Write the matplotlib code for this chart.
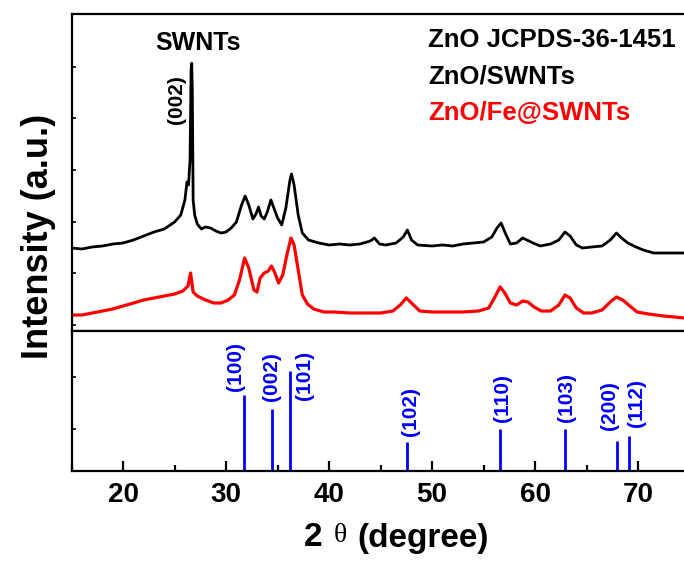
import matplotlib
matplotlib.use("Agg")
import matplotlib.pyplot as plt
import numpy as np
from matplotlib.ticker import MultipleLocator

plt.rcParams['font.family'] = ['Liberation Sans', 'DejaVu Sans']
plt.rcParams['font.weight'] = 'bold'

# XRD scans (2theta in degrees, intensity in arbitrary units)
two_theta_swnt = [15.0, 16.0, 17.0, 18.0, 19.0, 20.0, 21.0, 22.0, 23.0, 24.0, 25.0, 25.6,
                  26.0, 26.2, 26.35, 26.5, 26.6, 26.66, 26.72, 26.8, 26.95, 27.2, 27.6,
                  28.0, 28.5, 29.0, 29.5, 30.0, 30.5, 31.0, 31.5, 31.85, 32.2, 32.6, 32.9,
                  33.15, 33.4, 33.7, 34.0, 34.35, 34.6, 35.0, 35.4, 35.8, 36.2, 36.35,
                  36.6, 37.0, 37.4, 38.0, 39.0, 40.0, 41.0, 42.0, 43.0, 44.0, 44.4, 44.9,
                  45.5, 46.5, 47.2, 47.6, 48.0, 48.6, 50.0, 51.0, 52.0, 53.0, 54.0, 55.0,
                  55.8, 56.3, 56.7, 57.1, 57.6, 58.2, 58.8, 59.2, 59.8, 60.5, 61.5, 62.3,
                  62.9, 63.4, 64.0, 64.6, 65.5, 66.5, 67.3, 67.9, 68.4, 69.0, 69.8, 70.5,
                  71.5, 72.5, 73.5, 74.5]
int_swnt = [82.7, 81.7, 83.7, 84.7, 86.7, 87.7, 90.7, 94.7, 98.7, 101.7, 108.7, 115.7,
            130.7, 148.7, 145.7, 170.7, 260.7, 267.4, 240.7, 130.7, 115.7, 106.7, 101.7,
            103.7, 102.7, 99.7, 97.7, 98.7, 102.7, 108.7, 125.7, 134.7, 125.7, 111.7, 116.7,
            123.7, 114.7, 111.7, 118.7, 130.7, 123.7, 112.7, 105.7, 122.7, 150.7, 156.7,
            145.7, 115.7, 97.7, 90.7, 87.7, 85.7, 86.7, 85.7, 86.7, 89.7, 92.7, 86.7,
            85.7, 87.7, 93.7, 100.7, 90.7, 85.7, 84.7, 85.7, 84.7, 86.7, 87.7, 88.7,
            93.7, 102.7, 107.7, 97.7, 86.7, 87.7, 92.7, 90.7, 87.7, 84.7, 86.7, 90.7,
            98.7, 94.7, 85.7, 82.7, 83.7, 84.7, 90.7, 97.7, 92.7, 87.7, 83.7, 80.7,
            77.7, 77.7, 77.7, 77.7]

two_theta_fe = [15.0, 16.0, 17.0, 18.0, 19.0, 20.0, 21.0, 22.0, 23.0, 24.0, 25.0, 25.8,
                26.3, 26.55, 26.8, 27.2, 28.0, 28.8, 29.5, 30.2, 30.8, 31.3, 31.8, 32.2,
                32.7, 33.0, 33.3, 33.7, 34.1, 34.4, 34.7, 35.1, 35.5, 35.9, 36.3, 36.6,
                37.0, 37.4, 37.9, 38.5, 39.5, 40.5, 42.0, 43.5, 45.0, 46.2, 46.9, 47.5,
                48.1, 48.8, 50.0, 51.5, 53.0, 54.5, 55.5, 56.1, 56.6, 57.0, 57.6, 58.2,
                58.8, 59.3, 59.9, 60.6, 61.5, 62.3, 62.9, 63.4, 64.0, 64.7, 65.5, 66.5,
                67.4, 67.9, 68.5, 69.2, 69.9, 71.0, 72.5, 74.5]
int_fe = [15.7, 15.7, 17.7, 19.7, 21.7, 24.7, 27.7, 30.7, 32.7, 34.7, 36.7, 39.7,
          44.7, 57.7, 38.7, 34.7, 30.7, 27.7, 27.7, 30.7, 35.7, 50.7, 72.7, 62.7,
          40.7, 38.7, 52.7, 57.7, 59.7, 64.7, 58.7, 47.7, 55.7, 75.7, 92.7, 85.7,
          60.7, 35.7, 26.7, 21.7, 18.7, 18.7, 17.7, 17.7, 17.7, 19.7, 25.7, 32.7,
          26.7, 19.7, 18.7, 18.7, 18.7, 19.7, 22.7, 33.7, 43.7, 38.7, 27.7, 25.7,
          29.7, 28.7, 23.7, 19.7, 19.7, 25.7, 35.7, 32.7, 22.7, 17.7, 17.7, 20.7,
          29.7, 33.7, 30.7, 24.7, 18.7, 16.7, 14.7, 12.7]

# ZnO reference pattern (JCPDS 36-1451)
ref_pos = [31.77, 34.42, 36.25, 47.54, 56.60, 62.86, 67.96, 69.10]
ref_int = [75.4, 61.3, 100.0, 28.5, 41.9, 41.9, 29.5, 35.2]
ref_hkl = ['(100)', '(002)', '(101)', '(102)', '(110)', '(103)', '(200)', '(112)']

# label placement: horizontal shift (deg) and baseline height for each hkl
lab_dx = [-0.9, 0.0, 1.4, 0.4, 0.25, 0.2, -0.75, 0.75]
lab_y = [80.0, 70.0, 70.5, 35.0, 49.0, 49.0, 41.0, 43.5]

W, H = 684, 561
fig = plt.figure(figsize=(W / 100, H / 100), dpi=100)

x0 = 71.6 / W
width = 60 * 10.3 / W
ax_top = fig.add_axes([x0, (H - 330.7) / H, width, 316.4 / H])
ax_bot = fig.add_axes([x0, (H - 470.7) / H, width, 140.0 / H])

for ax in (ax_top, ax_bot):
    for s in ax.spines.values():
        s.set_linewidth(1.6)
    ax.set_xlim(15, 75)

# top panel: measured patterns
ax_top.plot(two_theta_swnt, int_swnt, color='black', lw=2.0)
ax_top.plot(two_theta_fe, int_fe, color='red', lw=2.3)
ax_top.set_ylim(0, 316.4)
ax_top.set_yticks(5.7 + 51.65 * np.arange(6))
ax_top.tick_params(axis='y', direction='in', length=3, width=1.2, labelleft=False)
ax_top.tick_params(axis='x', bottom=False, labelbottom=False)

ax_top.text(27.25, 287.5, 'SWNTs', fontsize=18, ha='center', va='center')
ax_top.text(25.2, 231.5, '(002)', fontsize=15, rotation=90, ha='center', va='center')

# bottom panel: reference sticks
ax_bot.vlines(ref_pos, 0, ref_int, color='blue', lw=2.0)
for p, h, dx, ly in zip(ref_pos, ref_hkl, lab_dx, lab_y):
    ax_bot.text(p + dx, ly, h, color='blue', fontsize=15, rotation=90,
                ha='center', va='bottom')
ax_bot.set_ylim(0, 140.0)
ax_bot.set_yticks([41.4, 94.0])
ax_bot.tick_params(axis='y', direction='in', length=3, width=1.2, labelleft=False)
ax_bot.xaxis.set_major_locator(MultipleLocator(10))
ax_bot.xaxis.set_minor_locator(MultipleLocator(5))
ax_bot.tick_params(axis='x', which='major', direction='in', length=7, width=1.6,
                   labelsize=20, pad=8)
ax_bot.tick_params(axis='x', which='minor', direction='in', length=4, width=1.6)
ax_bot.set_xticks([20, 30, 40, 50, 60, 70])

# series names
fig.text(428 / W, 1 - 40 / H, 'ZnO JCPDS-36-1451', fontsize=18.5, color='black',
         ha='left', va='center')
fig.text(428 / W, 1 - 76 / H, 'ZnO/SWNTs', fontsize=18.5, color='black',
         ha='left', va='center')
fig.text(428 / W, 1 - 113 / H, 'ZnO/Fe@SWNTs', fontsize=18.5, color='red',
         ha='left', va='center')

# axis titles
fig.text(39 / W, 1 - 236 / H, 'Intensity (a.u.)', fontsize=26, rotation=90,
         ha='center', va='center')
fig.text(313 / W, 1 - 538 / H, '2', fontsize=24, ha='center', va='center')
fig.text(340 / W, 1 - 536 / H, 'θ', fontsize=20, fontweight='normal',
         family=['Liberation Serif', 'DejaVu Serif'], ha='center', va='center')
fig.text(423 / W, 1 - 538 / H, '(degree)', fontsize=24, ha='center', va='center')

fig.savefig('out.png', dpi=100)
